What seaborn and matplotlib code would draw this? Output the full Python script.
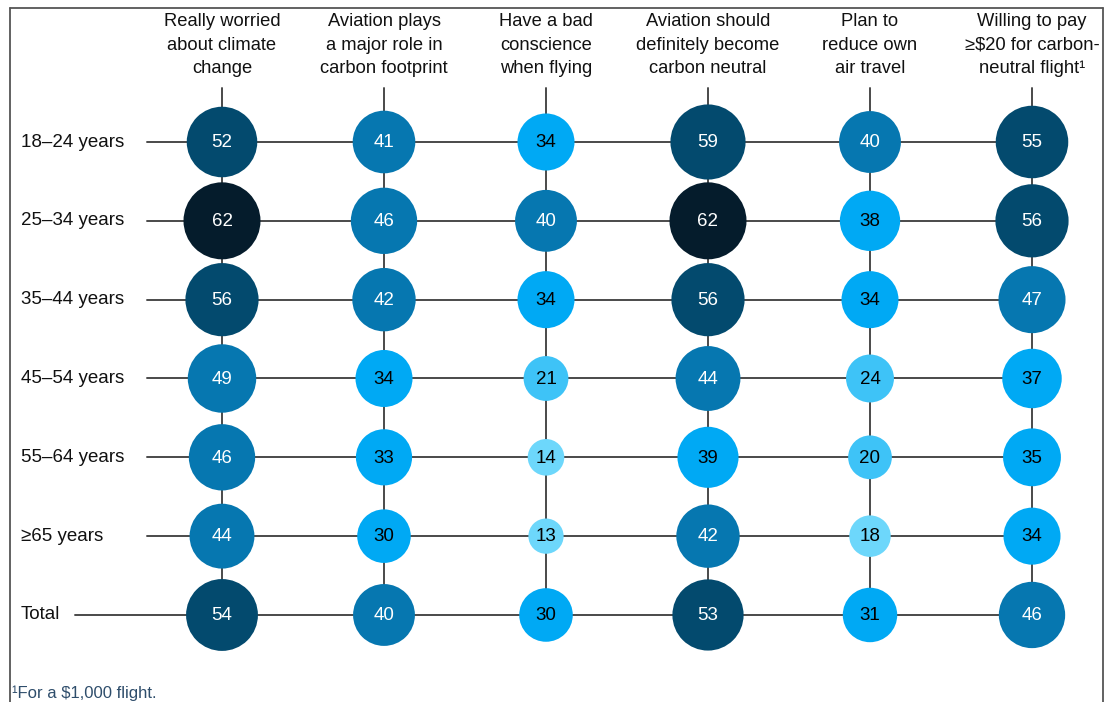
import matplotlib
matplotlib.use("Agg")
import matplotlib.pyplot as plt
import seaborn as sns
import pandas as pd
from matplotlib.lines import Line2D

# ---- data ----
columns = [
    "Really worried\nabout climate\nchange",
    "Aviation plays\na major role in\ncarbon footprint",
    "Have a bad\nconscience\nwhen flying",
    "Aviation should\ndefinitely become\ncarbon neutral",
    "Plan to\nreduce own\nair travel",
    "Willing to pay\n≥$20 for carbon-\nneutral flight¹",
]
rows = ["18–24 years", "25–34 years", "35–44 years", "45–54 years",
        "55–64 years", "≥65 years", "Total"]
really_worried = [52, 62, 56, 49, 46, 44, 54]
aviation_major_role = [41, 46, 42, 34, 33, 30, 40]
bad_conscience = [34, 40, 34, 21, 14, 13, 30]
become_neutral = [59, 62, 56, 44, 39, 42, 53]
reduce_travel = [40, 38, 34, 24, 20, 18, 31]
willing_to_pay = [55, 56, 47, 37, 35, 34, 46]
footnote = "¹For a $1,000 flight."

series = [really_worried, aviation_major_role, bad_conscience,
          become_neutral, reduce_travel, willing_to_pay]

recs = []
for ci, vals in enumerate(series):
    for ri, v in enumerate(vals):
        recs.append({"col": ci, "row": ri, "value": v})
df = pd.DataFrame(recs)

def band(v):
    if v >= 60: return "60+"
    if v >= 50: return "50s"
    if v >= 40: return "40s"
    if v >= 30: return "30s"
    if v >= 20: return "20s"
    return "<20"
df["band"] = df["value"].apply(band)
palette = {"60+": "#051C2C", "50s": "#034A6E", "40s": "#0677B0",
           "30s": "#00A9F4", "20s": "#3EC3F7", "<20": "#6DD7FB"}

# ---- layout (pixel geometry) ----
W, H = 1109, 702
col_x0, col_dx = 222, 162
row_y0, row_dy = 142, 78.83

def px_x(p): return (p - col_x0) / col_dx
def px_y(p): return (p - row_y0) / row_dy

sns.set_theme(style="white")
plt.rcParams["font.family"] = ["Liberation Sans", "DejaVu Sans"]

fig = plt.figure(figsize=(W / 100, H / 100), dpi=100)
ax = fig.add_axes([0, 0, 1, 1])

line_kw = dict(color="#4a4a4a", lw=1.4, zorder=1)
ncol = len(columns)
nrow = len(rows)
# horizontal lines
for ri in range(nrow):
    start = px_x(75) if rows[ri] == "Total" else px_x(147)
    ax.plot([start, ncol - 1], [ri, ri], **line_kw)
# vertical lines
for ci in range(ncol):
    ax.plot([ci, ci], [px_y(88), nrow - 1], **line_kw)

# bubbles: area proportional to value (62 -> ~77px diameter)
smax = (77 * 0.72) ** 2
sns.scatterplot(data=df, x="col", y="row", size="value", sizes=(0, smax),
                size_norm=(0, 62), hue="band", palette=palette,
                linewidth=0, legend=False, ax=ax, zorder=3)
ax.set_xlim(px_x(0), px_x(W))
ax.set_ylim(px_y(H), px_y(0))
ax.axis("off")

for _, r in df.iterrows():
    ax.text(r["col"], r["row"] + 0.01, str(r["value"]), ha="center", va="center",
            fontsize=13.5, color="white" if r["value"] >= 40 else "black",
            zorder=4)

# headers
for ci, name in enumerate(columns):
    ax.text(ci, px_y(45), name, ha="center", va="center", fontsize=13.2,
            color="#111111", linespacing=1.5)

# row labels
for ri, name in enumerate(rows):
    ax.text(px_x(21), ri, name, ha="left", va="center", fontsize=13.5,
            color="#111111")

# footnote
ax.text(px_x(12), px_y(693), footnote, ha="left", va="center",
        fontsize=12, color="#2E4D6B")

# frame
fc = "#555555"
fig.add_artist(Line2D([9.5 / W, 9.5 / W], [0, 1 - 8 / H], color=fc, lw=1.3))
fig.add_artist(Line2D([9.5 / W, 1103 / W], [1 - 8 / H, 1 - 8 / H], color=fc, lw=1.3))
fig.add_artist(Line2D([1103 / W, 1103 / W], [0, 1 - 8 / H], color=fc, lw=1.3))

fig.savefig("out.png", dpi=100, facecolor="white")
